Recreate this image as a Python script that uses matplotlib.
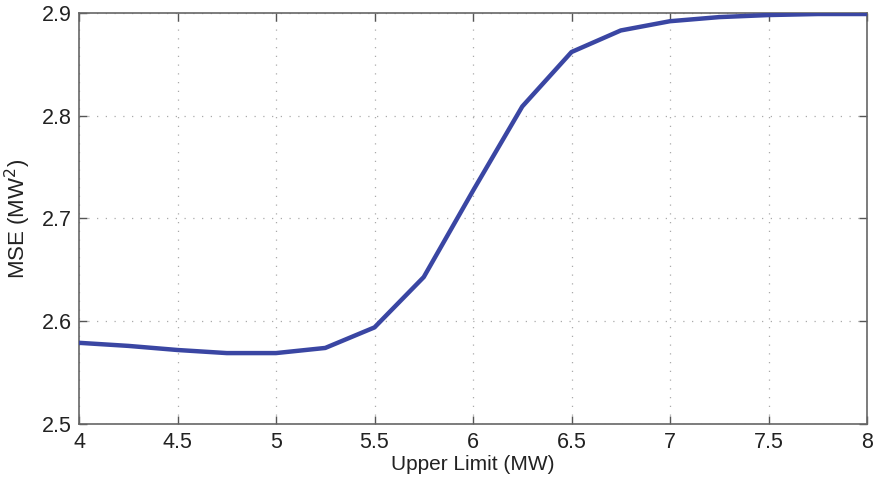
import matplotlib
matplotlib.use("Agg")
import matplotlib.pyplot as plt

# Upper limit sweep and resulting mean squared error
upper_limit = [4.0, 4.25, 4.5, 4.75, 5.0, 5.25, 5.5, 5.75, 6.0, 6.25, 6.5, 6.75, 7.0, 7.25, 7.5, 7.75, 8.0]
mse = [2.579, 2.576, 2.572, 2.569, 2.569, 2.574, 2.594, 2.643, 2.727, 2.809, 2.862, 2.883, 2.892, 2.896, 2.898, 2.899, 2.899]

x_ticks = [4, 4.5, 5, 5.5, 6, 6.5, 7, 7.5, 8]
x_tick_labels = ["4", "4.5", "5", "5.5", "6", "6.5", "7", "7.5", "8"]
y_ticks = [2.5, 2.6, 2.7, 2.8, 2.9]
y_tick_labels = ["2.5", "2.6", "2.7", "2.8", "2.9"]

plt.rcParams["font.family"] = ["Liberation Sans", "DejaVu Sans"]

fig = plt.figure(figsize=(8.77, 4.83), dpi=100)
ax = fig.add_axes([0.0901, 0.1222, 0.8985, 0.8509])

ax.plot(upper_limit, mse, color="#3a46a3", linewidth=3.2, solid_joinstyle="round", zorder=3)

ax.set_xlim(4, 8)
ax.set_ylim(2.5, 2.9)
ax.set_xticks(x_ticks)
ax.set_xticklabels(x_tick_labels)
ax.set_yticks(y_ticks)
ax.set_yticklabels(y_tick_labels)

ax.grid(True, linestyle=(0, (1, 6)), color="#aaaaaa", linewidth=0.9)
ax.tick_params(direction="in", top=True, right=True, length=6, width=1.0,
               color="#555555", labelsize=15.5, labelcolor="#222222")
ax.tick_params(axis="x", pad=6)
ax.tick_params(axis="y", pad=5)
for spine in ax.spines.values():
    spine.set_color("#666666")
    spine.set_linewidth(1.2)

ax.set_xlabel("Upper Limit (MW)", fontsize=15, color="#222222")
ax.xaxis.set_label_coords(0.5, -0.075)
ax.set_ylabel("MSE (MW$^2$)", fontsize=16, color="#222222")
ax.yaxis.set_label_coords(-0.058, 0.5)

fig.savefig("out.png", dpi=100)
